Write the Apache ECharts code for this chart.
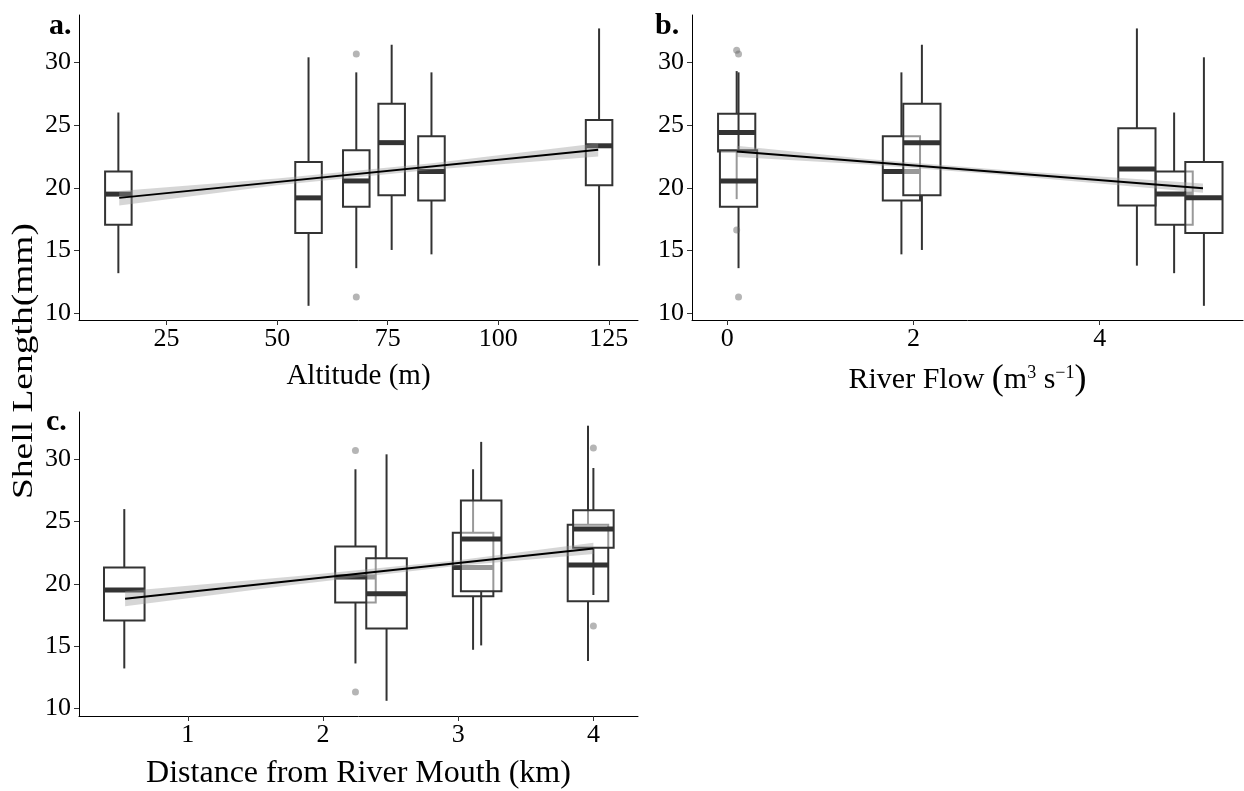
<!DOCTYPE html>
<html>
<head>
<meta charset="utf-8">
<title>Shell length</title>
<script src="https://cdn.jsdelivr.net/npm/echarts@6/dist/echarts.min.js"></script>
<style>
  html, body { margin: 0; padding: 0; background: #fff; }
  #chart { width: 1244px; height: 791px; }
</style>
</head>
<body>
<div id="chart"></div>
<script>
/* ===================== data ===================== */
// each box: [x, lower whisker, Q1, median, Q3, upper whisker], listed in drawing order
var altitudeBoxes = [
    [14.1, 13.2, 17.05, 19.5, 21.3, 26.0],
    [57.1, 10.6, 16.4, 19.2, 22.05, 30.4],
    [67.9, 13.6, 18.5, 20.55, 23.0, 29.2],
    [75.9, 15.05, 19.4, 23.6, 26.7, 31.4],
    [84.9, 14.7, 19.0, 21.3, 24.1, 29.2],
    [122.8, 13.8, 20.2, 23.35, 25.4, 32.7]
];
var flowBoxes = [
    [0.10, 19.1, 22.9, 24.4, 25.9, 29.3],
    [4.80, 13.2, 17.05, 19.5, 21.3, 26.0],
    [0.12, 13.6, 18.5, 20.55, 23.0, 29.2],
    [1.87, 14.7, 19.0, 21.3, 24.1, 29.2],
    [5.12, 10.6, 16.4, 19.2, 22.05, 30.4],
    [2.09, 15.05, 19.4, 23.6, 26.7, 31.4],
    [4.40, 13.8, 18.6, 21.5, 24.75, 32.7]
];
var distanceBoxes = [
    [0.53, 13.2, 17.05, 19.5, 21.3, 26.0],
    [2.24, 13.6, 18.5, 20.55, 23.0, 29.2],
    [3.11, 14.7, 19.0, 21.3, 24.1, 29.2],
    [2.47, 10.6, 16.4, 19.2, 22.05, 30.4],
    [3.17, 15.05, 19.4, 23.6, 26.7, 31.4],
    [3.96, 13.8, 18.6, 21.5, 24.75, 32.7],
    [4.00, 19.1, 22.9, 24.4, 25.9, 29.3]
];

// outliers: [x, y]
var altitudeOutliers = [[67.9, 30.66], [67.9, 11.3]];
var flowOutliers = [[0.10, 30.96], [0.10, 16.65], [0.12, 30.66], [0.12, 11.3]];
var distanceOutliers = [[2.24, 30.7], [2.24, 11.3], [4.00, 30.9], [4.00, 16.6]];

// fitted lines: [[x0, y0], [x1, y1]]
var altitudeFit = [[14.3, 19.2], [122.6, 23.03]];
var flowFit = [[0.10, 22.9], [5.11, 19.97]];
var distanceFit = [[0.536, 18.8], [4.0, 22.83]];

// confidence bands: [x, lower, upper]
var altitudeBand = [[14.3, 18.6, 19.75], [50, 20.2, 20.75], [85, 21.45, 21.95], [122.6, 22.5, 23.55]];
var flowBand = [[0.10, 22.45, 23.35], [1.5, 21.85, 22.3], [3.0, 21.0, 21.4], [5.11, 19.6, 20.35]];
var distanceBand = [[0.536, 18.2, 19.4], [1.8, 19.95, 20.6], [3.0, 21.45, 21.9], [4.0, 22.4, 23.3]];

// tick labels
var yTicks = [10, 15, 20, 25, 30];
var altitudeTicks = [25, 50, 75, 100, 125];
var flowTicks = [0, 2, 4];
var distanceTicks = [1, 2, 3, 4];
/* ===================== end ===================== */

var serif = '"Liberation Serif", "Times New Roman", serif';
var ink = '#333';

function xAxisOf(idx, min, max, ticks, name, nameSize) {
    return {
        type: 'value', gridIndex: idx, min: min, max: max,
        name: name, nameLocation: 'middle', nameGap: 42,
        nameTextStyle: {
            fontFamily: serif, fontSize: nameSize, color: '#000',
            rich: {
                sup: { fontFamily: serif, fontSize: 18, color: '#000', padding: [0, 0, 13, 0] },
                par: { fontFamily: serif, fontSize: 36, color: '#000' }
            }
        },
        axisLine: { show: true, onZero: false, lineStyle: { color: '#000', width: 1 } },
        axisTick: { show: true, length: 5, customValues: ticks, lineStyle: { color: ink } },
        axisLabel: { customValues: ticks, fontFamily: serif, fontSize: 26, color: '#000', margin: 6 },
        splitLine: { show: false }
    };
}

function yAxisOf(idx, min, max) {
    return {
        type: 'value', gridIndex: idx, min: min, max: max,
        axisLine: { show: true, onZero: false, lineStyle: { color: '#000', width: 1 } },
        axisTick: { show: true, length: 5, customValues: yTicks, lineStyle: { color: ink } },
        axisLabel: { customValues: yTicks, fontFamily: serif, fontSize: 26, color: '#000', margin: 8 },
        splitLine: { show: false }
    };
}

function boxSeries(idx, boxes, width) {
    return {
        type: 'custom', xAxisIndex: idx, yAxisIndex: idx, z: 2,
        data: boxes,
        renderItem: function (params, api) {
            var x = api.value(0), h = width / 2;
            var lo = api.coord([x, api.value(1)]);
            var q1 = api.coord([x, api.value(2)]);
            var q3 = api.coord([x, api.value(4)]);
            var hi = api.coord([x, api.value(5)]);
            var tl = api.coord([x - h, api.value(4)]);
            var br = api.coord([x + h, api.value(2)]);
            var ml = api.coord([x - h, api.value(3)]);
            var mr = api.coord([x + h, api.value(3)]);
            var line = { stroke: ink, lineWidth: 2 };
            return {
                type: 'group',
                children: [
                    { type: 'line', shape: { x1: hi[0], y1: hi[1], x2: q3[0], y2: q3[1] }, style: line },
                    { type: 'line', shape: { x1: q1[0], y1: q1[1], x2: lo[0], y2: lo[1] }, style: line },
                    { type: 'rect', shape: { x: tl[0], y: tl[1], width: br[0] - tl[0], height: br[1] - tl[1] },
                      style: { fill: 'rgba(255,255,255,0.5)', stroke: ink, lineWidth: 2 } },
                    { type: 'line', shape: { x1: ml[0], y1: ml[1], x2: mr[0], y2: mr[1] },
                      style: { stroke: ink, lineWidth: 5 } }
                ]
            };
        }
    };
}

function bandSeries(idx, band) {
    return {
        type: 'custom', xAxisIndex: idx, yAxisIndex: idx, z: 3, silent: true,
        data: band,
        renderItem: function (params, api) {
            if (params.dataIndex !== 0) return null;
            var pts = [];
            band.forEach(function (d) { pts.push(api.coord([d[0], d[2]])); });
            band.slice().reverse().forEach(function (d) { pts.push(api.coord([d[0], d[1]])); });
            return { type: 'polygon', shape: { points: pts }, style: { fill: 'rgba(153,153,153,0.4)' } };
        }
    };
}

function fitSeries(idx, fit) {
    return {
        type: 'line', xAxisIndex: idx, yAxisIndex: idx, z: 4, data: fit,
        symbol: 'none', lineStyle: { color: '#000', width: 2 }, silent: true
    };
}

function outlierSeries(idx, pts) {
    return {
        type: 'scatter', xAxisIndex: idx, yAxisIndex: idx, z: 5, data: pts,
        symbolSize: 7, itemStyle: { color: 'rgba(100,100,100,0.6)' }, silent: true
    };
}

function panelLabel(text, x, y) {
    return {
        type: 'text', x: x, y: y,
        style: { text: text, fontFamily: serif, fontSize: 30, fontWeight: 'bold', fill: '#000' }
    };
}

var chart = echarts.init(document.getElementById('chart'), null, { renderer: 'canvas' });

chart.setOption({
    animation: false,
    backgroundColor: '#fff',
    grid: [
        { left: 79, top: 15, width: 559, height: 305 },
        { left: 692, top: 15, width: 551, height: 305 },
        { left: 79, top: 412, width: 559, height: 305 }
    ],
    xAxis: [
        xAxisOf(0, 5.2, 131.6, altitudeTicks, 'Altitude (m)', 29),
        xAxisOf(1, -0.38, 5.54, flowTicks, 'River Flow {par|(}m{sup|3} s{sup|\u22121}{par|)}', 30),
        xAxisOf(2, 0.195, 4.33, distanceTicks, 'Distance from River Mouth (km)', 32)
    ],
    yAxis: [
        yAxisOf(0, 9.47, 33.77),
        yAxisOf(1, 9.47, 33.77),
        yAxisOf(2, 9.38, 33.8)
    ],
    graphic: [
        panelLabel('a.', 49, 11),
        panelLabel('b.', 655, 11),
        panelLabel('c.', 46, 407),
        {
            type: 'text', x: 9, y: 361, rotation: Math.PI / 2, scaleX: 1.25,
            style: { text: 'Shell Length(mm)', fontFamily: serif, fontSize: 30, fill: '#000',
                     align: 'center', verticalAlign: 'top' }
        }
    ],
    series: [
        boxSeries(0, altitudeBoxes, 6),
        bandSeries(0, altitudeBand),
        fitSeries(0, altitudeFit),
        outlierSeries(0, altitudeOutliers),

        boxSeries(1, flowBoxes, 0.4),
        bandSeries(1, flowBand),
        fitSeries(1, flowFit),
        outlierSeries(1, flowOutliers),

        boxSeries(2, distanceBoxes, 0.3),
        bandSeries(2, distanceBand),
        fitSeries(2, distanceFit),
        outlierSeries(2, distanceOutliers)
    ]
});
</script>
</body>
</html>
